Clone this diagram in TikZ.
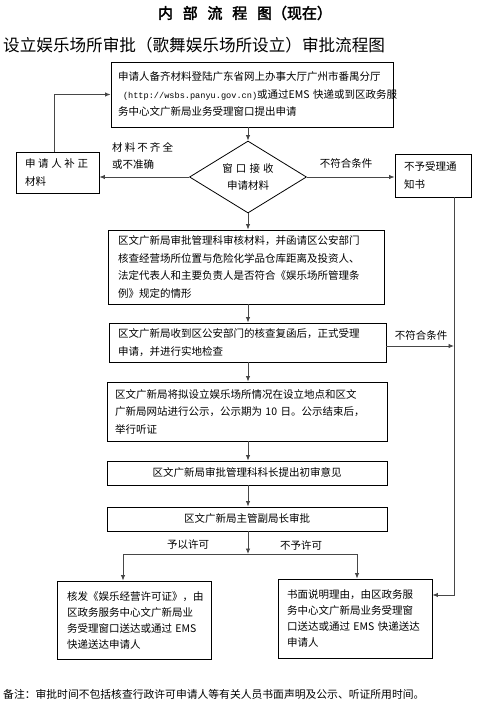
\documentclass[tikz,border=0pt]{standalone}
\usepackage{fontspec}
\setmainfont{Noto Sans CJK SC}
\newfontfamily\cjkbold[FakeBold=2.5]{Noto Sans CJK SC}
\newfontfamily\urlfont{Liberation Mono}
\usetikzlibrary{shapes.geometric,arrows.meta}
\tikzset{
  box/.style={draw=black, line width=0.8pt, inner xsep=0pt, inner ysep=0pt, align=left,
    font=\fontsize{10.5pt}{17.5pt}\selectfont},
  conn/.style={draw=black!72, line width=0.9pt},
  arr/.style={conn, -{Latex[length=5.5pt,width=4.5pt]}},
  lbl/.style={inner sep=0pt, font=\fontsize{10.5pt}{17pt}\selectfont, align=left},
}
\begin{document}
\begin{tikzpicture}[x=1pt,y=-1pt]
\useasboundingbox[fill=white] (0,0) rectangle (484,712);

% titles
\node[inner sep=0pt, font=\fontsize{15pt}{18pt}\cjkbold] (title) at (245,13)
  {内\hspace{0.65em}部\hspace{0.65em}流\hspace{0.65em}程\hspace{0.65em}图（现在）};
\node[inner sep=0pt, anchor=west, font=\fontsize{16.6pt}{20pt}\selectfont] (subtitle) at (3,45)
  {设立娱乐场所审批（歌舞娱乐场所设立）审批流程图};

% boxes
\node[box, minimum width=282pt, minimum height=65pt, text width=268pt] (b1) at (252,94.5)
  {申请人备齐材料登陆广东省网上办事大厅广州市番禺分厅\\
   \mbox{\hspace*{5pt}{\urlfont\fontsize{8.6pt}{17.5pt}\selectfont(http://wsbs.panyu.gov.cn)}或通过EMS~快递或到区政务服}\\
   务中心文广新局业务受理窗口提出申请};

\node[diamond, draw=black, line width=0.8pt, aspect=1.6, inner sep=0pt,
  minimum width=117pt, minimum height=72pt, align=center,
  font=\fontsize{10.5pt}{17pt}\selectfont] (dia) at (248,177)
  {窗\hspace{0.3em}口\hspace{0.3em}接\hspace{0.3em}收\\申请材料};

\node[box, minimum width=83pt, minimum height=41pt, text width=65pt] (left) at (57.5,172.5)
  {申\hspace{0.25em}请\hspace{0.25em}人\hspace{0.25em}补\hspace{0.25em}正\\材料};

\node[box, minimum width=76pt, minimum height=43pt, text width=58pt] (right) at (433,175.5)
  {不予受理通\\知书};

\node[box, minimum width=276pt, minimum height=74pt, text width=256pt] (b2) at (246,267)
  {区文广新局审批管理科审核材料，并函请区公安部门\\
   核查经营场所位置与危险化学品仓库距离及投资人、\\
   法定代表人和主要负责人是否符合《娱乐场所管理条\\
   例》规定的情形};

\node[box, minimum width=277pt, minimum height=39pt, text width=259pt] (b3) at (247.5,342.5)
  {区文广新局收到区公安部门的核查复函后，正式受理\\
   申请，并进行实地检查};

\node[box, minimum width=280pt, minimum height=59pt, text width=264pt] (b4) at (247,411.5)
  {区文广新局将拟设立娱乐场所情况在设立地点和区文\\
   \mbox{广新局网站进行公示，公示期为~10~日。公示结束后，}\\
   举行听证};

\node[box, minimum width=280pt, minimum height=24pt, align=center] (b5) at (247,473)
  {区文广新局审批管理科科长提出初审意见};

\node[box, minimum width=280pt, minimum height=24pt, align=center] (b6) at (247,519)
  {区文广新局主管副局长审批};

\node[box, minimum width=154pt, minimum height=78pt, text width=134pt,
  font=\fontsize{10.5pt}{16pt}\selectfont] (bl) at (134,620)
  {核发《娱乐经营许可证》，由\\
   区政务服务中心文广新局业\\
   \mbox{务受理窗口送达或通过~EMS}\\
   快递送达申请人};

\node[box, minimum width=154pt, minimum height=79pt, text width=136pt,
  font=\fontsize{10.5pt}{16.3pt}\selectfont] (br) at (355,618.5)
  {书面说明理由，由区政务服\\
   务中心文广新局业务受理窗\\
   \mbox{口送达或通过~EMS~快递送达}\\
   申请人};

% helper coordinates
\coordinate (axis) at (248,0);
\coordinate (rv) at (454,0);
\coordinate (rj) at (454,595);
\coordinate (split) at (248,554);
\coordinate (sl) at (123,554);
\coordinate (sr) at (357,554);
\coordinate (lv) at (54,0);

% connectors
\draw[arr] (axis |- b1.south) -- (dia.north);
\draw[arr] (dia.west) -- (dia.west -| left.east);
\draw[arr] (dia.east) -- (dia.east -| right.west);
\draw[arr] (lv |- left.north) |- (b1.west);
\draw[arr] (dia.south) -- (axis |- b2.north);
\draw[arr] (axis |- b2.south) -- (axis |- b3.north);
\draw[arr] (axis |- b3.south) -- (axis |- b4.north);
\draw[arr] (axis |- b4.south) -- (axis |- b5.north);
\draw[arr] (axis |- b5.south) -- (axis |- b6.north);
\draw[arr] (axis |- b6.south) -- (split);
\draw[conn] (sl) -- (sr);
\draw[arr] (sl) -- (sl |- bl.north);
\draw[arr] (sr) -- (sr |- br.north);
\draw[arr] ([yshift=-3.5pt]b3.east) -- ([yshift=-3.5pt]b3.east -| rv);
\draw[arr] (rv |- right.south) -- (rj) -- (rj -| br.east);

% labels
\node[lbl, anchor=west] (l1) at (112,155.5)
  {材\hspace{0.2em}料\hspace{0.2em}不\hspace{0.2em}齐\hspace{0.2em}全\\或不准确};
\node[lbl] (l2) at (346,163) {不符合条件};
\node[lbl] (l3) at (421,335) {不符合条件};
\node[lbl] (l4) at (188,545) {予以许可};
\node[lbl] (l5) at (301,545) {不予许可};

% note
\node[inner sep=0pt, anchor=west, font=\fontsize{10.8pt}{13pt}\selectfont] (note) at (3,694)
  {备注：审批时间不包括核查行政许可申请人等有关人员书面声明及公示、听证所用时间。};
\end{tikzpicture}
\end{document}
